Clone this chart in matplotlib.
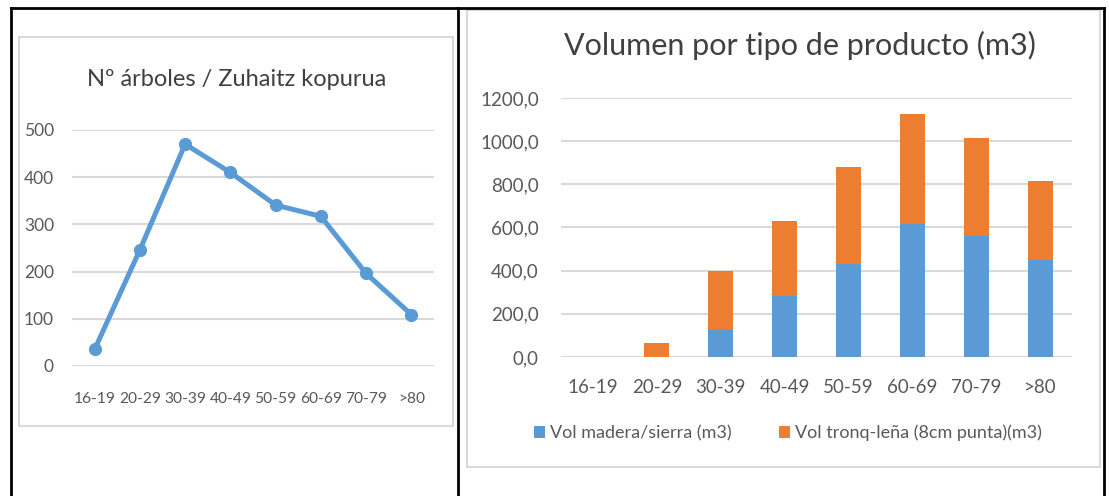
import matplotlib.pyplot as plt
from matplotlib.patches import Rectangle
from matplotlib.lines import Line2D

plt.rcParams['font.family'] = ['Lato', 'DejaVu Sans']

# datos
clases = ['16-19', '20-29', '30-39', '40-49', '50-59', '60-69', '70-79', '>80']
n_arboles = [35, 246, 470, 410, 341, 317, 196, 109]
vol_madera = [0, 0, 127, 284, 431, 618, 559, 448]
vol_lena = [0, 63, 270, 345, 451, 509, 457, 367]

AZUL = '#5B9BD5'
NARANJA = '#ED7D31'
GRIS = '#D9D9D9'
TEXTO = '#595959'

W, H = 1109, 496
fig = plt.figure(figsize=(W / 100, H / 100), dpi=100)


def px_rect(x0, y0, x1, y1, **kw):
    # rectangulo en pixeles (origen arriba-izquierda)
    r = Rectangle((x0 / W, 1 - y1 / H), (x1 - x0) / W, (y1 - y0) / H,
                  transform=fig.transFigure, fill=False, **kw)
    fig.add_artist(r)


def px_line(x0, y0, x1, y1, **kw):
    fig.add_artist(Line2D([x0 / W, x1 / W], [1 - y0 / H, 1 - y1 / H],
                          transform=fig.transFigure, **kw))


# marco de la tabla
px_line(11, 8, 1104, 8, color='black', lw=2)
px_line(11, 8, 11, 496, color='black', lw=2)
px_line(458, 8, 458, 496, color='black', lw=2)
px_line(1104, 8, 1104, 496, color='black', lw=2)

# cajas grises de los graficos
px_rect(19, 37, 453, 426, edgecolor=GRIS, lw=1.5)
px_rect(467, 10, 1100, 467, edgecolor=GRIS, lw=1.5)

# ---- grafico de lineas ----
ax1 = fig.add_axes([72 / W, 1 - 366 / H, 362 / W, 236 / H])
x = range(len(clases))
ax1.plot(x, n_arboles, color=AZUL, lw=3.6, marker='o', markersize=8.5,
         solid_joinstyle='round')
ax1.set_xlim(-0.5, len(clases) - 0.5)
ax1.set_ylim(0, 500)
ax1.set_yticks(range(0, 501, 100))
ax1.set_xticks(list(x))
ax1.set_xticklabels(clases)
ax1.grid(axis='y', color=GRIS, lw=1.5)
ax1.set_axisbelow(True)
for s in ax1.spines.values():
    s.set_visible(False)
ax1.tick_params(length=0, colors=TEXTO)
ax1.tick_params(axis='y', pad=13, labelsize=12.5)
ax1.tick_params(axis='x', pad=19, labelsize=11.2)
fig.text(237 / W, 1 - 80 / H, 'Nº árboles / Zuhaitz kopurua', ha='center',
         va='center', fontsize=17, color='#404040')

# ---- grafico de barras apiladas ----
ax2 = fig.add_axes([561 / W, 1 - 357 / H, 511 / W, 259 / H])
b1 = ax2.bar(x, vol_madera, width=0.39, color=AZUL,
             label='Vol madera/sierra (m3)')
b2 = ax2.bar(x, vol_lena, width=0.39, bottom=vol_madera, color=NARANJA,
             label='Vol tronq-leña (8cm punta)(m3)')
ax2.set_xlim(-0.5, len(clases) - 0.5)
ax2.set_ylim(0, 1200)
ticks = range(0, 1201, 200)
ax2.set_yticks(list(ticks))
ax2.set_yticklabels([f'{t},0' for t in ticks])
ax2.set_xticks(list(x))
ax2.set_xticklabels(clases)
ax2.grid(axis='y', color=GRIS, lw=1.5)
ax2.set_axisbelow(True)
for s in ax2.spines.values():
    s.set_visible(False)
ax2.tick_params(length=0, colors=TEXTO, labelsize=13.5)
ax2.tick_params(axis='y', pad=16)
ax2.tick_params(axis='x', pad=16)
fig.text(800 / W, 1 - 45 / H, 'Volumen por tipo de producto (m3)', ha='center',
         va='center', fontsize=22, color='#404040')

fig.legend(handles=[b1, b2], loc='center', bbox_to_anchor=(788 / W, 1 - 433 / H),
           ncol=2, frameon=False, fontsize=13, labelcolor=TEXTO,
           handlelength=0.6, handleheight=0.6, handletextpad=0.3,
           columnspacing=2.6)

fig.savefig('out.png', dpi=100)
